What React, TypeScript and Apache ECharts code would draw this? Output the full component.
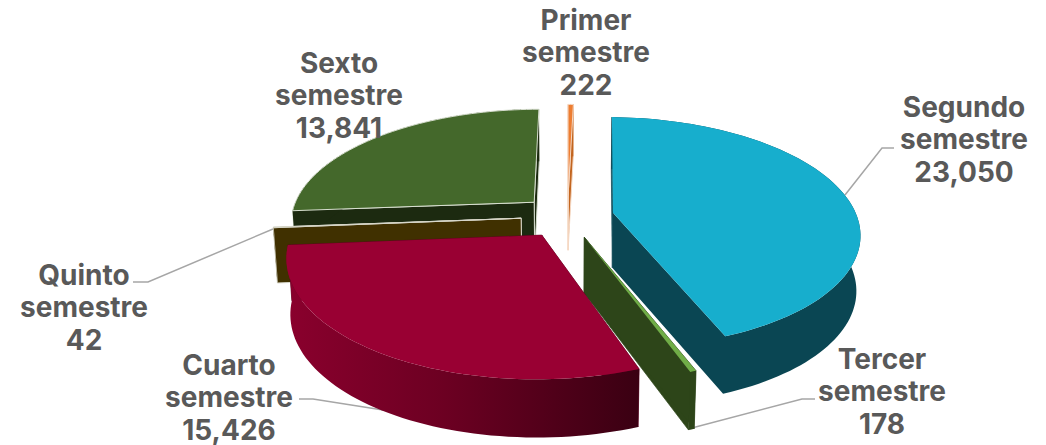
import React, { useEffect, useRef } from "react";
import * as echarts from "echarts";

const categories = ["Primer semestre", "Segundo semestre", "Tercer semestre", "Cuarto semestre", "Quinto semestre", "Sexto semestre"];
const values = [222, 23050, 178, 15426, 42, 13841];
const valueLabels = ["222", "23,050", "178", "15,426", "42", "13,841"];
const topColors = ["#ed7d31", "#17aecd", "#70ad47", "#990033", "#7f6000", "#44682b"];
const wallColors = ["#c2651f", "#0a4653", "#2d4519", "#5c001f", "#403000", "#1c2a10"];
const edgeColors = ["#f6d9c4", null, null, null, "#d8d8cc", "#d8dfd0"];
const drawOrder = [0, 5, 4, 1, 2, 3];
const labelCenters = [[586, 52], [964, 139], [882, 391], [229, 397], [84, 307], [339, 95]];
const leaderLines = [
  [[845, 195], [882, 148], [894, 148]],
  [[688, 429], [802, 399], [815, 399]],
  [[383, 410], [313, 399], [299, 399]],
  [[273, 229], [148, 282], [133, 282]],
];

const CX = 567.5, CY = 216.5, RX = 244, RY = 113, PERSP = 0.168, EXPLODE = 0.19, HEIGHT = 55, SHRINK = 0.986;
const total = values.reduce((a, b) => a + b, 0);
const starts: number[] = [];
values.reduce((acc, v, i) => { starts[i] = acc; return acc + (v / total) * Math.PI * 2; }, 0);

function topPoint(X: number, Z: number) {
  const s = 1 / (1 + PERSP * Z);
  return [CX + RX * X * s, CY - RY * Z * s];
}
function botPoint(X: number, Z: number) {
  const p = topPoint(X, Z);
  return [CX + (p[0] - CX) * SHRINK, p[1] + HEIGHT * (1 - 0.05 * Z)];
}

function renderSlice(_: any, api: any) {
  const i = api.value(1);
  const a0 = starts[i];
  const a1 = a0 + (api.value(0) / total) * Math.PI * 2;
  const mid = (a0 + a1) / 2;
  const ox = EXPLODE * Math.sin(mid), oz = EXPLODE * Math.cos(mid);
  const steps = Math.max(2, Math.ceil((a1 - a0) / 0.03));
  const topRim: number[][] = [], botRim: number[][] = [];
  for (let k = 0; k <= steps; k++) {
    const a = a0 + ((a1 - a0) * k) / steps;
    const X = ox + Math.sin(a), Z = oz + Math.cos(a);
    topRim.push(topPoint(X, Z));
    botRim.push(botPoint(X, Z));
  }
  const apexT = topPoint(ox, oz), apexB = botPoint(ox, oz);
  const edge = edgeColors[i];
  const topLine = edge ? { stroke: edge, lineWidth: 1 } : { stroke: null };
  const faceLine = edge ? { stroke: edge, lineWidth: 1 } : { stroke: wallColors[i], lineWidth: 0.7 };
  const wallFill =
    i === 3
      ? new echarts.graphic.LinearGradient(0, 0, 1, 0, [
          { offset: 0, color: "#8a002d" },
          { offset: 0.45, color: "#6c0022" },
          { offset: 1, color: "#3a0012" },
        ])
      : wallColors[i];
  const poly = (points: number[][], fill: any, style: any = { stroke: null }) => ({
    type: "polygon",
    shape: { points },
    style: { fill, ...style },
    silent: true,
  });
  const rearFace = poly([apexT, topRim[0], botRim[0], apexB], wallColors[i], faceLine);
  const topFace = poly([apexT, ...topRim], topColors[i], topLine);
  if (i === 1) {
    // The front radial face and the outer wall as one outline, so no seam shows between them.
    const joined = poly(
      [...topRim, apexT, apexB, ...botRim.slice().reverse()],
      wallColors[i],
      { stroke: null }
    );
    return { type: "group", children: [rearFace, joined, topFace] };
  }
  return {
    type: "group",
    children: [
      poly([apexT, topRim[steps], botRim[steps], apexB], wallColors[i], faceLine),
      rearFace,
      poly([...topRim, ...botRim.slice().reverse()], wallFill),
      topFace,
    ],
  };
}

export default function App() {
  const ref = useRef<HTMLDivElement>(null);
  useEffect(() => {
    const chart = echarts.init(ref.current!, null, { renderer: "svg" });
    const texts = categories.map((c, i) => ({
      type: "text",
      x: labelCenters[i][0],
      y: labelCenters[i][1],
      style: {
        text: c.split(" ").concat(valueLabels[i]).join("\n"),
        fontFamily: "Inter",
        fontWeight: 700,
        fontSize: 28,
        lineHeight: 32.5,
        fill: "#595959",
        align: "center",
        verticalAlign: "middle",
      },
      z: 10,
    }));
    const lines = leaderLines.map((pts) => ({
      type: "polyline",
      shape: { points: pts },
      style: { stroke: "#a6a6a6", lineWidth: 1.5, fill: "none" },
      z: 5,
    }));
    chart.setOption({
      animation: false,
      backgroundColor: "#ffffff",
      series: [
        {
          type: "custom",
          coordinateSystem: "none",
          renderItem: renderSlice,
          silent: true,
          z: 6,
          data: drawOrder.map((i) => ({ name: categories[i], value: [values[i], i] })),
        },
      ],
      graphic: [...lines, ...texts],
    });
    return () => chart.dispose();
  }, []);
  return <div ref={ref} style={{ position: "fixed", left: 0, top: 0, width: 1046, height: 445 }} />;
}
